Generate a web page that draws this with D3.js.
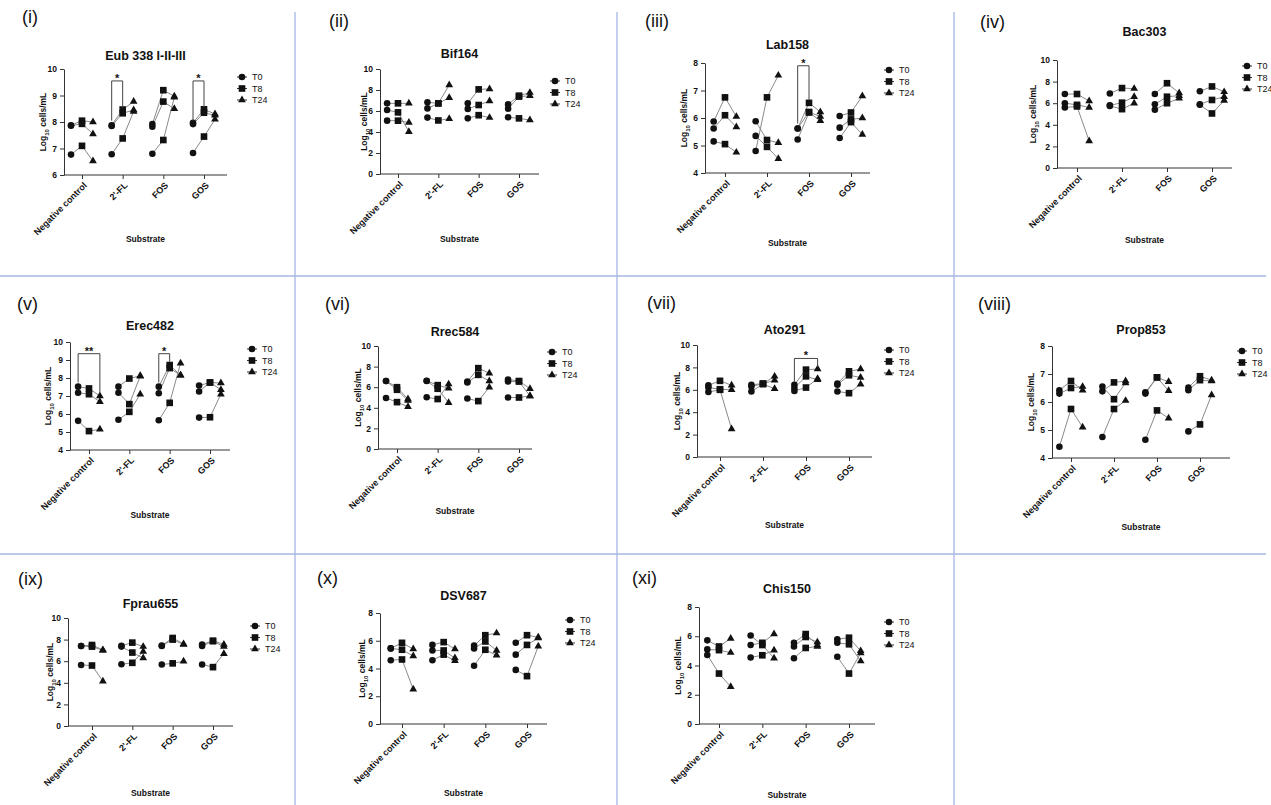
<!DOCTYPE html>
<html>
<head>
<meta charset="utf-8">
<script src="https://cdn.jsdelivr.net/npm/d3@7"></script>
<style>
  body { margin: 0; background: #fff; }
  svg text { font-family: "Liberation Sans", Arial, sans-serif; fill: #111; }
</style>
</head>
<body>
<svg id="chart" width="1271" height="805"></svg>
<script>

// ---- data ----
var substrates = ["Negative control", "2'-FL", "FOS", "GOS"];
var times = ["T0", "T8", "T24"];
var panelLabels = ["(i)", "(ii)", "(iii)", "(iv)", "(v)", "(vi)", "(vii)", "(viii)", "(ix)", "(x)", "(xi)"];
var panelTitles = ["Eub 338 I-II-III", "Bif164", "Lab158", "Bac303", "Erec482", "Rrec584",
                   "Ato291", "Prop853", "Fprau655", "DSV687", "Chis150"];
var yDomains = [[6,10],[0,10],[4,8],[0,10],[4,10],[0,10],[0,10],[4,8],[0,10],[0,8],[0,8]];
var yTickSteps = [1, 2, 1, 2, 1, 2, 2, 1, 2, 2, 2];

// each: substrate -> replicate -> [T0, T8, T24]
var eub338 = [
  [[7.88,8.05,8.0],[7.86,7.93,7.55],[6.77,7.1,6.53]],
  [[7.88,8.47,8.77],[7.85,8.33,8.45],[6.78,7.38,8.4]],
  [[7.92,9.2,8.97],[7.82,8.77,8.5],[6.8,7.32,8.93]],
  [[7.97,8.48,8.3],[7.92,8.35,8.25],[6.83,7.45,8.1]]
];
var bif164 = [
  [[6.73,6.73,6.73],[6.1,5.87,4.03],[5.08,5.08,4.9]],
  [[6.83,6.73,8.48],[6.25,6.73,7.27],[5.37,5.1,5.27]],
  [[6.73,8.06,8.1],[6.2,6.57,6.95],[5.3,5.6,5.37]],
  [[6.63,7.46,7.75],[6.22,7.37,7.45],[5.4,5.3,5.14]]
];
var lab158 = [
  [[5.87,6.75,6.05],[5.62,6.1,5.67],[5.15,5.05,4.75]],
  [[4.8,6.75,7.55],[5.88,5.2,5.1],[5.35,4.95,4.52]],
  [[5.62,6.55,6.22],[5.62,6.22,6.05],[5.22,6.2,5.9]],
  [[6.07,6.2,6.8],[5.65,5.95,6.0],[5.27,5.85,5.4]]
];
var bac303 = [
  [[6.85,6.85,6.2],[6.0,5.85,5.6],[5.6,5.7,2.5]],
  [[6.9,7.4,7.35],[5.8,6.05,6.6],[5.75,5.45,6.0]],
  [[6.85,7.85,6.95],[5.9,6.6,6.7],[5.4,6.0,6.45]],
  [[7.1,7.55,7.05],[5.9,6.3,6.6],[5.85,5.05,6.25]]
];
var erec482 = [
  [[7.52,7.42,7.0],[7.18,7.1,6.68],[5.62,5.05,5.15]],
  [[7.52,7.97,8.12],[7.18,6.55,8.1],[5.68,6.12,7.1]],
  [[7.52,8.72,8.15],[7.15,8.55,8.15],[5.65,6.62,8.82]],
  [[7.58,7.75,7.72],[7.25,7.75,7.35],[5.8,5.82,7.1]]
];
var rrec584 = [
  [[6.6,6.0,4.85],[6.6,5.75,4.7],[4.95,4.55,4.1]],
  [[6.62,6.2,5.9],[6.6,5.85,4.5],[5.02,4.85,6.3]],
  [[6.55,7.85,7.35],[6.45,7.2,6.6],[4.9,4.65,6.0]],
  [[6.75,6.6,5.85],[6.55,6.55,5.15],[5.0,5.0,5.15]]
];
var ato291 = [
  [[6.4,6.8,6.4],[6.2,6.05,6.0],[5.8,6.0,2.5]],
  [[6.45,6.55,7.2],[6.3,6.55,6.85],[5.85,6.5,6.1]],
  [[6.45,7.8,7.85],[6.15,7.2,6.9],[5.9,6.2,7.0]],
  [[6.55,7.65,7.85],[6.45,7.3,7.1],[5.85,5.7,6.5]]
];
var prop853 = [
  [[6.42,6.75,6.42],[6.3,6.5,6.55],[4.4,5.75,5.1]],
  [[6.55,6.1,6.68],[6.38,6.7,6.75],[4.75,5.75,6.05]],
  [[6.35,6.88,6.72],[6.3,6.88,6.4],[4.65,5.7,5.42]],
  [[6.52,6.92,6.78],[6.42,6.78,6.75],[4.95,5.2,6.25]]
];
var fprau655 = [
  [[7.4,7.5,7.05],[7.4,7.35,7.0],[5.65,5.6,4.15]],
  [[7.42,7.72,7.35],[7.35,6.8,6.3],[5.72,5.85,6.9]],
  [[7.45,8.15,7.6],[7.4,8.0,7.55],[5.7,5.8,6.0]],
  [[7.55,7.9,7.55],[7.4,7.85,7.35],[5.7,5.45,6.7]]
];
var dsv687 = [
  [[5.45,5.85,5.4],[5.45,5.35,4.9],[4.6,4.65,2.5]],
  [[5.7,5.9,5.4],[5.3,5.3,4.75],[4.6,5.0,4.55]],
  [[5.65,6.4,6.55],[5.45,5.95,5.3],[4.2,5.35,4.95]],
  [[5.85,6.4,6.25],[5.0,5.7,6.2],[3.9,3.45,5.6]]
];
var chis150 = [
  [[5.72,5.3,5.85],[5.1,5.05,4.88],[4.72,3.45,2.55]],
  [[6.05,5.4,4.5],[5.4,5.55,6.15],[4.55,4.7,5.05]],
  [[5.55,6.15,5.4],[5.3,5.95,5.6],[4.5,5.2,5.3]],
  [[5.8,5.9,5.0],[5.55,5.45,4.3],[4.6,3.45,4.85]]
];
var panelData = [eub338, bif164, lab158, bac303, erec482, rrec584, ato291, prop853, fprau655, dsv687, chis150];

// significance brackets (values in data units, time indices)
var sigMarks = [
  {panel:0, sub:1, from:0, to:1, top:9.55, left:8.05, right:8.55, label:"*"},
  {panel:0, sub:3, from:0, to:1, top:9.55, left:8.05, right:8.55, label:"*"},
  {panel:2, sub:2, from:0, to:1, top:7.9, left:5.8, right:6.65, label:"*"},
  {panel:4, sub:0, from:0, to:2, top:9.35, left:7.75, right:7.2, label:"**"},
  {panel:4, sub:2, from:0, to:1, top:9.35, left:7.75, right:8.9, label:"*"},
  {panel:6, sub:2, from:0, to:2, top:8.8, left:6.7, right:8.05, label:"*"}
];

// ---- layout of each panel on the page ----
var layout = [
  {lx:22,  ly:23,  x0:64,   x1:227,  yt:69,  yb:175, c0:82,   c1:204,  ty:60,  sy:242, gx:242,  gy:77,  ax:43},
  {lx:329, ly:27,  x0:380,  x1:539,  yt:69,  yb:174, c0:398,  c1:519,  ty:58,  sy:242, gx:555,  gy:81,  ax:364},
  {lx:645, ly:27,  x0:705,  x1:870,  yt:63,  yb:173, c0:725,  c1:851,  ty:49,  sy:246, gx:889,  gy:70,  ax:684},
  {lx:980, ly:28,  x0:1057, x1:1232, yt:60,  yb:168, c0:1077, c1:1212, ty:36,  sy:243, gx:1247, gy:66,  ax:1033},
  {lx:17,  ly:310, x0:70,   x1:230,  yt:342, yb:450, c0:89,   c1:210,  ty:330, sy:518, gx:252,  gy:349, ax:48},
  {lx:325, ly:310, x0:378,  x1:532,  yt:346, yb:449, c0:397,  c1:519,  ty:336, sy:514, gx:552,  gy:352, ax:358},
  {lx:647, ly:309, x0:697,  x1:872,  yt:345, yb:457, c0:720,  c1:849,  ty:334, sy:528, gx:889,  gy:350, ax:677},
  {lx:978, ly:310, x0:1052, x1:1230, yt:346, yb:458, c0:1071, c1:1200, ty:334, sy:530, gx:1242, gy:351, ax:1031},
  {lx:18,  ly:585, x0:68,   x1:233,  yt:618, yb:726, c0:92,   c1:213,  ty:608, sy:796, gx:255,  gy:626, ax:50},
  {lx:317, ly:584, x0:380,  x1:547,  yt:613, yb:724, c0:402,  c1:527,  ty:600, sy:796, gx:570,  gy:620, ax:362},
  {lx:632, ly:584, x0:699,  x1:875,  yt:607, yb:724, c0:719,  c1:849,  ty:593, sy:798, gx:889,  gy:622, ax:678}
];

var svg = d3.select("#chart");
var sepColor = "#a4b6e2";

// separators
[295, 617, 954].forEach(function(x){
  svg.append("line").attr("x1", x).attr("x2", x).attr("y1", 12).attr("y2", 805)
    .attr("stroke", sepColor).attr("stroke-width", 1.3);
});
[276, 554].forEach(function(y){
  svg.append("line").attr("x1", 0).attr("x2", 1266).attr("y1", y).attr("y2", y)
    .attr("stroke", sepColor).attr("stroke-width", 1.3);
});

var symbols = [d3.symbolCircle, d3.symbolSquare, d3.symbolTriangle];
var symSizes = [34, 44, 26];
var sym = function(t){ return d3.symbol().type(symbols[t]).size(symSizes[t])(); };

panelData.forEach(function(data, i){
  var L = layout[i];
  var g = svg.append("g");

  var y = d3.scaleLinear().domain(yDomains[i]).range([L.yb, L.yt]);
  var x = d3.scalePoint().domain(substrates).range([L.c0, L.c1]);
  var off = x.step() * 0.27;
  var xt = function(s, t){ return x(substrates[s]) + (t - 1) * off; };

  // panel label and title
  g.append("text").attr("x", L.lx).attr("y", L.ly)
    .style("font-size", "18px").text(panelLabels[i]);
  g.append("text").attr("x", (L.x0 + L.x1) / 2).attr("y", L.ty)
    .attr("text-anchor", "middle").style("font-size", "12.5px").style("font-weight", "bold")
    .text(panelTitles[i]);

  // y axis
  var ticks = d3.range(yDomains[i][0], yDomains[i][1] + 0.001, yTickSteps[i]);
  var ya = g.append("g").attr("transform", "translate(" + L.x0 + ",0)")
    .call(d3.axisLeft(y).tickValues(ticks).tickSize(4).tickSizeOuter(0).tickFormat(d3.format("d")));
  ya.selectAll("text").style("font-size", "8.5px").style("font-weight", "bold").attr("fill", "#111");
  ya.selectAll("line,path").attr("stroke", "#333");

  // x axis
  var xa = g.append("g").attr("transform", "translate(0," + L.yb + ")")
    .call(d3.axisBottom(x).tickSize(4).tickSizeOuter(0));
  xa.select(".domain").remove();
  xa.selectAll("line").attr("stroke", "#333");
  xa.selectAll("text")
    .style("font-size", "9px").style("font-weight", "bold").attr("fill", "#111")
    .attr("text-anchor", "end")
    .attr("dy", "0.3em").attr("y", 0)
    .attr("transform", "translate(3,9) rotate(-45)");
  g.append("line").attr("x1", L.x0).attr("x2", L.x1).attr("y1", L.yb).attr("y2", L.yb)
    .attr("stroke", "#333");

  // axis titles
  var yl = g.append("text")
    .attr("transform", "translate(" + L.ax + "," + (L.yt + L.yb) / 2 + ") rotate(-90)")
    .attr("text-anchor", "middle").attr("dy", "0.35em")
    .style("font-size", "8.5px").style("font-weight", "bold");
  yl.append("tspan").text("Log");
  yl.append("tspan").attr("baseline-shift", "sub").style("font-size", "6px").text("10");
  yl.append("tspan").text(" cells/mL");

  g.append("text").attr("x", (L.x0 + L.x1) / 2).attr("y", L.sy)
    .attr("text-anchor", "middle").style("font-size", "8.5px").style("font-weight", "bold")
    .text("Substrate");

  // connecting lines
  var line = d3.line()
    .x(function(d){ return xt(d.s, d.t); })
    .y(function(d){ return y(d.v); });
  data.forEach(function(reps, s){
    reps.forEach(function(r){
      var pts = r.map(function(v, t){ return {s: s, t: t, v: v}; });
      g.append("path").datum(pts).attr("d", line)
        .attr("fill", "none").attr("stroke", "#8a8a8a").attr("stroke-width", 1);
    });
  });

  // markers
  data.forEach(function(reps, s){
    reps.forEach(function(r){
      r.forEach(function(v, t){
        g.append("path").attr("d", sym(t))
          .attr("transform", "translate(" + xt(s, t) + "," + y(v) + ")")
          .attr("fill", "#111");
      });
    });
  });

  // significance brackets
  sigMarks.filter(function(m){ return m.panel === i; }).forEach(function(m){
    var xa0 = xt(m.sub, m.from), xb0 = xt(m.sub, m.to);
    g.append("path")
      .attr("d", "M" + xa0 + "," + y(m.left) + "V" + y(m.top) + "H" + xb0 + "V" + y(m.right))
      .attr("fill", "none").attr("stroke", "#444").attr("stroke-width", 1);
    g.append("text").attr("x", (xa0 + xb0) / 2).attr("y", y(m.top) + 1)
      .attr("text-anchor", "middle").style("font-size", "11px").style("font-weight", "bold")
      .text(m.label);
  });

  // legend
  times.forEach(function(tn, t){
    var ly = L.gy + t * 11.5;
    g.append("line").attr("x1", L.gx - 5).attr("x2", L.gx + 5).attr("y1", ly).attr("y2", ly)
      .attr("stroke", "#333");
    g.append("path").attr("d", sym(t)).attr("transform", "translate(" + L.gx + "," + ly + ")")
      .attr("fill", "#111");
    g.append("text").attr("x", L.gx + 10).attr("y", ly).attr("dy", "0.35em")
      .style("font-size", "9px").text(tn);
  });
});
</script>
</body>
</html>
